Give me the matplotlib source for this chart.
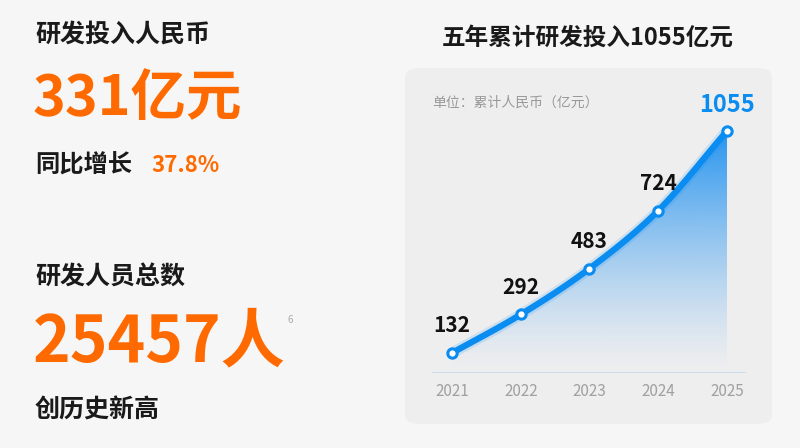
import numpy as np
import matplotlib
matplotlib.use('Agg')
from matplotlib import pyplot as plt
from matplotlib.patches import FancyBboxPatch, Polygon

plt.rcParams['font.family'] = ['Noto Sans CJK SC', 'DejaVu Sans']

years = [2021, 2022, 2023, 2024, 2025]
values = [132, 292, 483, 724, 1055]
year_labels = ['2021', '2022', '2023', '2024', '2025']

orange = '#ff6a00'
blue = '#0a8cf0'
W, H = 800, 448

fig = plt.figure(figsize=(8, 4.48), dpi=100)
fig.patch.set_facecolor('#f6f6f6')

def fx(px): return px / W
def fy(py): return 1 - py / H

# left text block
fig.text(fx(35), fy(35), '研发投入人民币', fontsize=18, fontweight='bold', color='#1a1a1a', va='center')
fig.text(fx(33), fy(99), '331亿元', fontsize=40, fontweight='black', color=orange, va='center')
fig.text(fx(35), fy(166), '同比增长', fontsize=17.5, fontweight='bold', color='#1a1a1a', va='center')
fig.text(fx(151), fy(166), '37.8%', fontsize=16, fontweight='bold', color=orange, va='center')
fig.text(fx(35), fy(278), '研发人员总数', fontsize=18, fontweight='bold', color='#1a1a1a', va='center')
fig.text(fx(33), fy(343), '25457人', fontsize=46, fontweight='black', color=orange, va='center')
fig.text(fx(288), fy(320), '6', fontsize=7, color='#aaaaaa', va='center')
fig.text(fx(35), fy(411), '创历史新高', fontsize=18, fontweight='bold', color='#1a1a1a', va='center')

# right panel
fig.text(fx(588), fy(38), '五年累计研发投入1055亿元', fontsize=17, fontweight='bold', color='#1a1a1a', va='center', ha='center')
box = FancyBboxPatch((fx(405), fy(424)), fx(367), (424 - 68) / H,
                     boxstyle='round,pad=0,rounding_size=0.02', transform=fig.transFigure,
                     facecolor='#eeeeef', edgecolor='none', zorder=-10)
fig.patches.append(box)
fig.text(fx(432), fy(103), '单位：累计人民币（亿元）', fontsize=10, color='#999999', va='center')

ax = fig.add_axes([fx(432), fy(372), fx(745 - 432), (372 - 120) / H])
ax.set_facecolor('none')
ax.set_zorder(5)
for s in ['top', 'right', 'left']:
    ax.spines[s].set_visible(False)
ax.spines['bottom'].set_color('#cfdcea')
ax.set_yticks([])
ax.set_xticks(years)
ax.set_xticklabels(year_labels, fontsize=11, color='#a0a0a0')
ax.tick_params(axis='x', length=0, pad=8)

# smooth curve (Catmull-Rom through the data points, rendering only)
x = np.array(years, float)
y = np.array(values, float)
px = np.concatenate([[2 * x[0] - x[1]], x, [2 * x[-1] - x[-2]]])
py = np.concatenate([[2 * y[0] - y[1]], y, [2 * y[-1] - y[-2]]])
cx, cy = [], []
t = np.linspace(0, 1, 30)
for i in range(1, len(px) - 2):
    p0, p1, p2, p3 = [np.array([px[j], py[j]]) for j in range(i - 1, i + 3)]
    pts = 0.5 * ((2 * p1)[None] + (-p0 + p2)[None] * t[:, None]
                 + (2 * p0 - 5 * p1 + 4 * p2 - p3)[None] * t[:, None] ** 2
                 + (-p0 + 3 * p1 - 3 * p2 + p3)[None] * t[:, None] ** 3)
    cx.extend(pts[:, 0]); cy.extend(pts[:, 1])
cx, cy = np.array(cx), np.array(cy)

# gradient fill under curve
grad = np.zeros((100, 1, 4))
c = matplotlib.colors.to_rgb('#1a8ff0')
grad[..., 0], grad[..., 1], grad[..., 2] = c
grad[:, 0, 3] = np.linspace(0.95, 0.0, 100) ** 1.3
img = ax.imshow(grad, extent=[x[0], x[-1], 52.8, y[-1]], aspect='auto', origin='upper', zorder=1)
poly = Polygon(np.column_stack([np.r_[cx, x[-1], x[0]], np.r_[cy, 52.8, 52.8]]),
               closed=True, transform=ax.transData, facecolor='none', edgecolor='none')
ax.add_patch(poly)
img.set_clip_path(poly)
ax.set_xlim(2020.709, 2025.262)
ax.set_ylim(52.8, 1100.6)

ax.plot(cx, cy, color=blue, lw=8, alpha=0.15, zorder=2, solid_capstyle='round')
ax.plot(cx, cy, color=blue, lw=4.5, zorder=3, solid_capstyle='round')
ax.scatter(x, y, s=45, facecolor='white', edgecolor=blue, linewidth=2.2, zorder=4, clip_on=False)

for xi, yi in zip(years[:-1], values[:-1]):
    ax.annotate(str(yi), (xi, yi), xytext=(0, 12), textcoords='offset points',
                ha='center', va='bottom', fontsize=15, fontweight='bold', color='#111111')
ax.annotate(str(values[-1]), (years[-1], values[-1]), xytext=(0, 10), textcoords='offset points',
            ha='center', va='bottom', fontsize=17, fontweight='bold', color=blue)

fig.savefig('out.png', dpi=100, facecolor=fig.get_facecolor())
